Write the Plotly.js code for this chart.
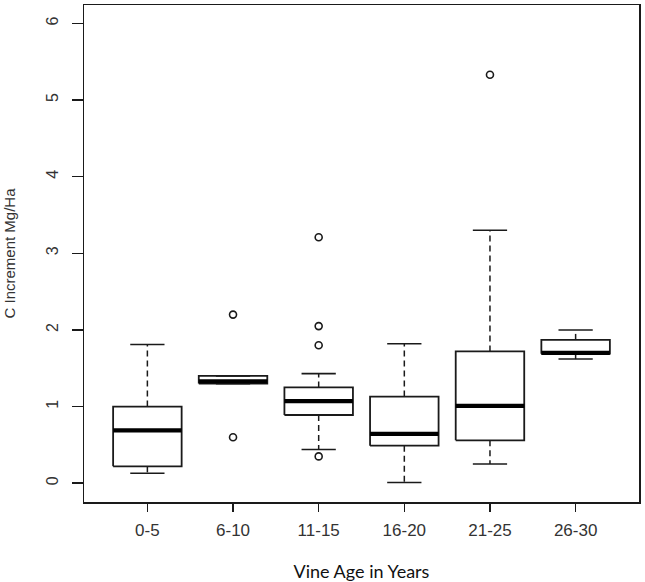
<!DOCTYPE html>
<html>
<head>
<meta charset="utf-8">
<script src="https://cdn.plot.ly/plotly-3.0.1.min.js"></script>
<style>html,body{margin:0;padding:0;background:#fff;}#chart{width:645px;height:582px;}</style>
</head>
<body>
<div id="chart"></div>
<script>
// Categories (vine age classes)
const categories = ["0-5", "6-10", "11-15", "16-20", "21-25", "26-30"];
// Box statistics (C increment, Mg/Ha)
const lowerWhisker = [0.13, 1.30, 0.44, 0.01, 0.25, 1.62];
const q1Values     = [0.22, 1.30, 0.89, 0.49, 0.56, 1.69];
const medianValues = [0.69, 1.33, 1.07, 0.645, 1.01, 1.70];
const q3Values     = [1.00, 1.40, 1.25, 1.13, 1.72, 1.87];
const upperWhisker = [1.81, 1.40, 1.43, 1.82, 3.30, 2.00];
// Outliers
const outlierCategory = ["6-10", "6-10", "11-15", "11-15", "11-15", "11-15", "21-25"];
const outlierValues   = [2.20, 0.60, 3.21, 2.05, 1.80, 0.35, 5.33];
// Tick labels
const yTickValues = [0, 1, 2, 3, 4, 5, 6];

const BOX_HALF = 0.4, CAP_HALF = 0.2;
const ink = "#1a1a1a";

const bx = [], by = [], mx = [], my = [], wx = [], wy = [], cx = [], cy = [];
categories.forEach((c, i) => {
  bx.push(i - BOX_HALF, i + BOX_HALF, i + BOX_HALF, i - BOX_HALF, i - BOX_HALF, null);
  by.push(q1Values[i], q1Values[i], q3Values[i], q3Values[i], q1Values[i], null);
  mx.push(i - BOX_HALF, i + BOX_HALF, null);
  my.push(medianValues[i], medianValues[i], null);
  wx.push(i, i, null, i, i, null);
  wy.push(q3Values[i], upperWhisker[i], null, q1Values[i], lowerWhisker[i], null);
  cx.push(i - CAP_HALF, i + CAP_HALF, null, i - CAP_HALF, i + CAP_HALF, null);
  cy.push(upperWhisker[i], upperWhisker[i], null, lowerWhisker[i], lowerWhisker[i], null);
});

const traces = [
  {x: wx, y: wy, mode: "lines", line: {color: ink, width: 1.5, dash: "6px,4px"}, hoverinfo: "skip"},
  {x: cx, y: cy, mode: "lines", line: {color: ink, width: 1.6}, hoverinfo: "skip"},
  {x: bx, y: by, mode: "lines", line: {color: ink, width: 1.8}, fill: "none", hoverinfo: "skip"},
  {x: mx, y: my, mode: "lines", line: {color: "#000", width: 4.2}, hoverinfo: "skip"},
  {x: outlierCategory.map(c => categories.indexOf(c)), y: outlierValues, mode: "markers",
   marker: {symbol: "circle-open", size: 7, color: ink, line: {width: 1.6, color: ink}}}
];

const layout = {
  width: 645, height: 582,
  margin: {l: 84, r: 6, t: 5, b: 80},
  paper_bgcolor: "#fff", plot_bgcolor: "#fff",
  showlegend: false,
  xaxis: {
    range: [-0.74, 5.74], tickmode: "array", tickvals: categories.map((c, i) => i), ticktext: categories,
    showgrid: false, zeroline: false, showline: true, mirror: true, linecolor: ink, linewidth: 1.5,
    ticks: "outside", ticklen: 8, tickwidth: 1.5, tickcolor: ink,
    ticklabelstandoff: 4,
    tickfont: {family: "'Liberation Sans', Arial, sans-serif", size: 17, color: "#333"},
    title: {text: "Vine Age in Years", font: {family: "Lato, sans-serif", size: 18, color: "#111"}, standoff: 28}
  },
  yaxis: {
    range: [-0.245, 6.24], tickmode: "array", tickvals: yTickValues, ticktext: yTickValues.map(String),
    showgrid: false, zeroline: false, showline: true, mirror: true, linecolor: ink, linewidth: 1.5,
    ticks: "outside", ticklen: 11, tickwidth: 1.5, tickcolor: ink, tickangle: -90,
    ticklabelstandoff: 7,
    tickfont: {family: "'Liberation Sans', Arial, sans-serif", size: 16, color: "#333"},
    title: {text: "C Increment Mg/Ha", font: {family: "'Liberation Sans Narrow', 'Liberation Sans', Arial, sans-serif", size: 15, color: "#333"}, standoff: 25}
  }
};

Plotly.newPlot("chart", traces, layout, {displayModeBar: false, staticPlot: true});
</script>
</body>
</html>
